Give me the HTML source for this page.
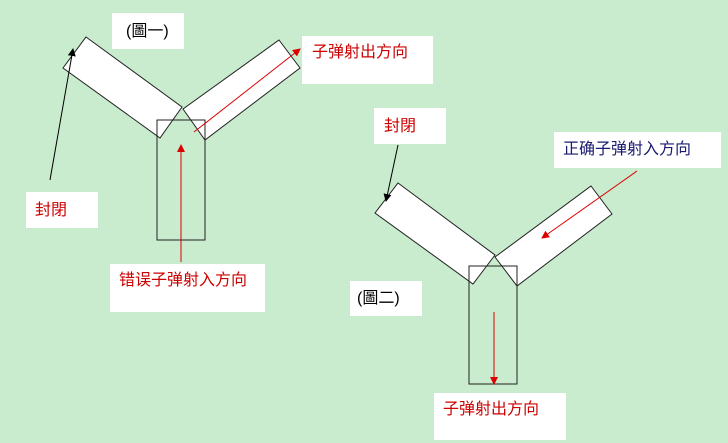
<!DOCTYPE html>
<html><head><meta charset="utf-8"><style>
html,body{margin:0;padding:0;background:#c9ecce;}
svg{display:block;}
text{font-family:"Liberation Sans","Noto Sans CJK SC",sans-serif;font-size:16px;}
</style></head><body>
<svg width="728" height="443" viewBox="0 0 728 443" xmlns="http://www.w3.org/2000/svg">
<defs>
<marker id="ab" markerWidth="8" markerHeight="8" refX="7" refY="4" orient="auto" markerUnits="userSpaceOnUse"><path d="M0,0 L8,4 L0,8 z" fill="#000"/></marker>
<marker id="ar" markerWidth="8" markerHeight="8" refX="7" refY="4" orient="auto" markerUnits="userSpaceOnUse"><path d="M0,0 L8,4 L0,8 z" fill="#d00"/></marker>
</defs>
<rect width="728" height="443" fill="#c9ecce"/>
<!-- label boxes -->
<rect x="112" y="13" width="72" height="36" fill="#fff"/>
<rect x="302" y="36" width="131" height="48" fill="#fff"/>
<rect x="26" y="192" width="72" height="36" fill="#fff"/>
<rect x="110" y="264" width="155" height="48" fill="#fff"/>
<rect x="374" y="108" width="72" height="36" fill="#fff"/>
<rect x="554" y="132" width="167" height="36" fill="#fff"/>
<rect x="350" y="281" width="72" height="35" fill="#fff"/>
<rect x="434" y="393" width="132" height="47" fill="#fff"/>
<!-- figure 1 -->
<g stroke="#222" stroke-width="1">
<polygon points="86,37 182,107 160,138 63,68" fill="#fff"/>
<polygon points="279,40 300,68 205,140 183,109" fill="#fff"/>
<rect x="157" y="120" width="48" height="120" fill="none"/>
</g>
<line x1="50" y1="180" x2="73" y2="49" stroke="#000" stroke-width="1" marker-end="url(#ab)"/>
<line x1="181" y1="262" x2="181" y2="145" stroke="#d00" stroke-width="1" marker-end="url(#ar)"/>
<line x1="194" y1="132" x2="300" y2="49" stroke="#d00" stroke-width="1" marker-end="url(#ar)"/>
<!-- figure 2 -->
<g stroke="#222" stroke-width="1">
<polygon points="398,183 495,255 473,284 375,213" fill="#fff"/>
<polygon points="591,186 612,214 517,286 495,257" fill="#fff"/>
<rect x="469" y="266" width="48" height="118" fill="none"/>
</g>
<line x1="398" y1="145" x2="386" y2="201" stroke="#000" stroke-width="1" marker-end="url(#ab)"/>
<line x1="637" y1="171" x2="542" y2="238" stroke="#d00" stroke-width="1" marker-end="url(#ar)"/>
<line x1="494" y1="312" x2="494" y2="384" stroke="#d00" stroke-width="1" marker-end="url(#ar)"/>
<!-- text -->
<text x="126" y="36" fill="#000">(圖一)</text>
<text x="312" y="57" fill="#c00">子弹射出方向</text>
<text x="35" y="215" fill="#c00">封閉</text>
<text x="119" y="285" fill="#c00">错误子弹射入方向</text>
<text x="384" y="131" fill="#c00">封閉</text>
<text x="563" y="154" fill="#1a1a70">正确子弹射入方向</text>
<text x="357" y="303" fill="#000">(圖二)</text>
<text x="443" y="414" fill="#c00">子弹射出方向</text>
</svg>
</body></html>
